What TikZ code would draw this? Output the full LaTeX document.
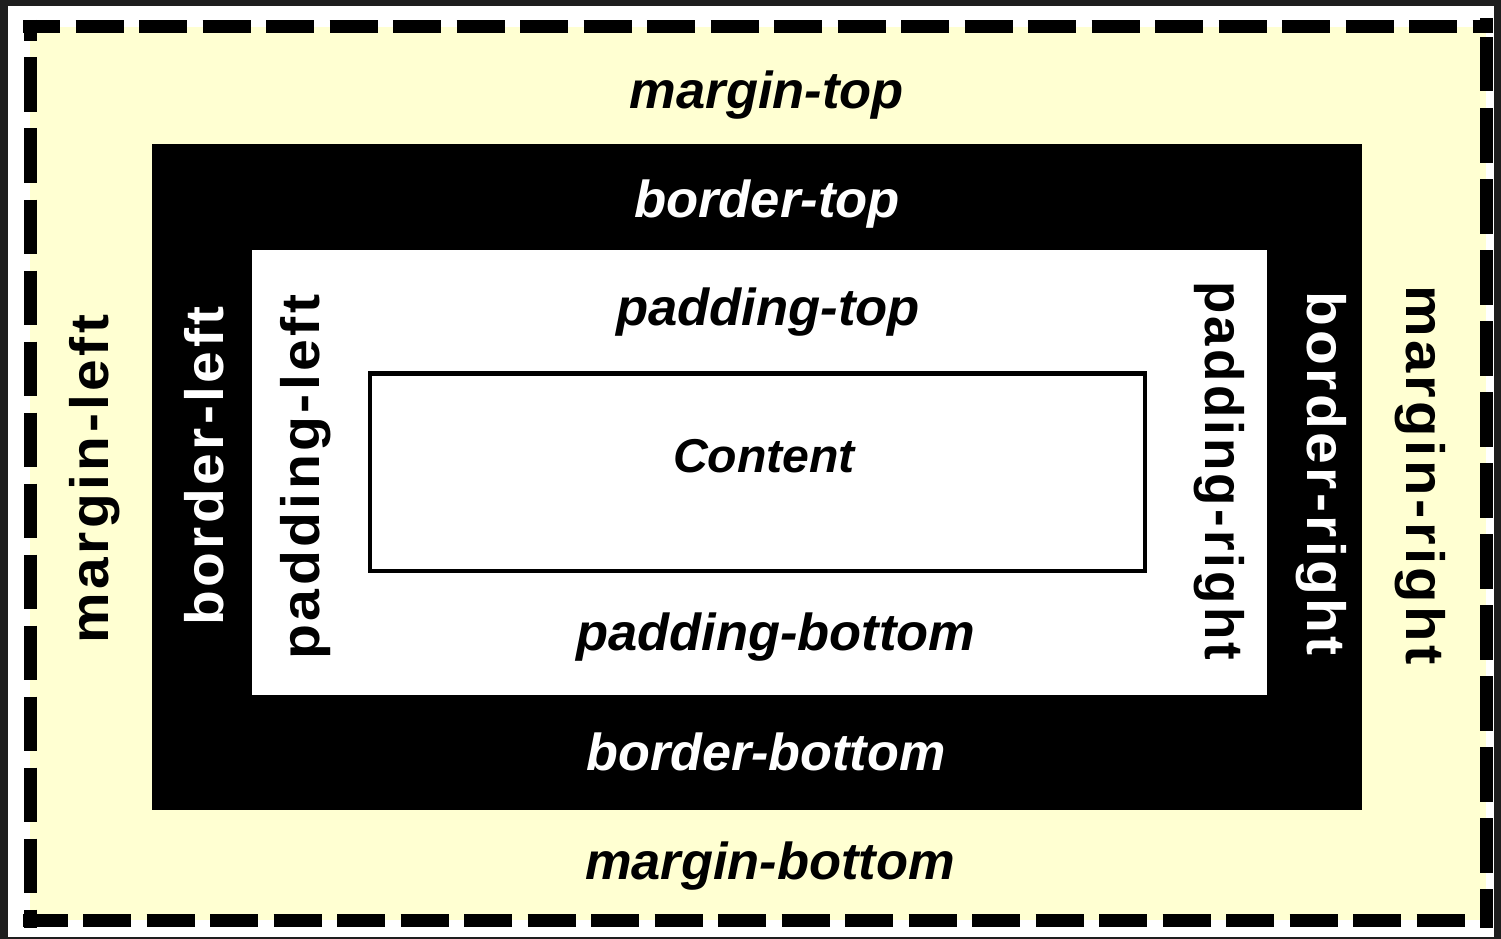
\documentclass[tikz,border=0pt]{standalone}
\usepackage{fontspec}
\usepackage{graphicx}
\setmainfont{Liberation Sans}
\newfontfamily\sidefont{Liberation Sans}[LetterSpace=6]
\definecolor{frame}{HTML}{1E1E1E}
\definecolor{cream}{HTML}{FFFFD2}
% horizontal labels: bold oblique, stretched to a given width
\newcommand{\cssH}[3][52]{\resizebox{#2pt}{\height}{\fontsize{#1}{#1}\selectfont\bfseries\itshape #3}}
% side labels: bold upright, spaced out, stretched to a given width
\newcommand{\cssV}[2]{\resizebox{#1pt}{\height}{\sidefont\fontsize{54}{54}\selectfont\bfseries #2}}
\begin{document}
\begin{tikzpicture}[x=1pt,y=-1pt,
  lab/.style={inner sep=0pt, anchor=center},
  onblack/.style={lab, text=white},
  leftside/.style={lab, rotate=90},
  rightside/.style={lab, rotate=-90},
  dashline/.style={line width=13pt, draw=black}]
\useasboundingbox (0,0) rectangle (1501,939);
% outer frame and page
\fill[frame] (0,0) rectangle (1501,939);
\fill[white] (8,6) rectangle (1494,937);
% margin area
\fill[cream] (30,27) rectangle (1486,920);
% dashed margin edge
\draw[dashline, dash pattern=on 48pt off 15.5pt, dash phase=11pt] (23,27) -- (1493,27);
\draw[dashline, dash pattern=on 48pt off 15.5pt, dash phase=3.5pt] (23,920) -- (1493,920);
\draw[dashline, dash pattern=on 54.5pt off 16.5pt, dash phase=33.5pt] (30,20) -- (30,928);
\draw[dashline, dash pattern=on 54.5pt off 16.5pt, dash phase=52pt] (1486,18) -- (1486,928);
% border
\fill[black] (152,144) rectangle (1362,810);
% padding
\fill[white] (252,250) rectangle (1267,695);
% content
\draw[line width=4.5pt, fill=white] (370,373.5) rectangle (1145,571);

% horizontal labels
\node[lab] (mtop) at (767,95) {\cssH{274}{margin-top}};
\node[onblack] (btop) at (767,204) {\cssH{266}{border-top}};
\node[lab] (ptop) at (768,312) {\cssH{304}{padding-top}};
\node[lab] (content) at (764,456) {\cssH[47.5]{182}{Content}};
\node[lab] (pbottom) at (776,637) {\cssH{399}{padding-bottom}};
\node[onblack] (bbottom) at (766,752) {\cssH{359}{border-bottom}};
\node[lab] (mbottom) at (770,866) {\cssH{370}{margin-bottom}};

% side labels
\node[leftside] (mleft) at (95,479) {\cssV{328}{margin-left}};
\node[leftside, text=white] (bleft) at (204,466) {\cssV{319}{border-left}};
\node[leftside] (pleft) at (306,477) {\cssV{365}{padding-left}};
\node[rightside] (pright) at (1219,471) {\cssV{379}{padding-right}};
\node[rightside, text=white] (bright) at (1321,474) {\cssV{364}{border-right}};
\node[rightside] (mright) at (1420,475) {\cssV{380}{margin-right}};
\end{tikzpicture}
\end{document}
